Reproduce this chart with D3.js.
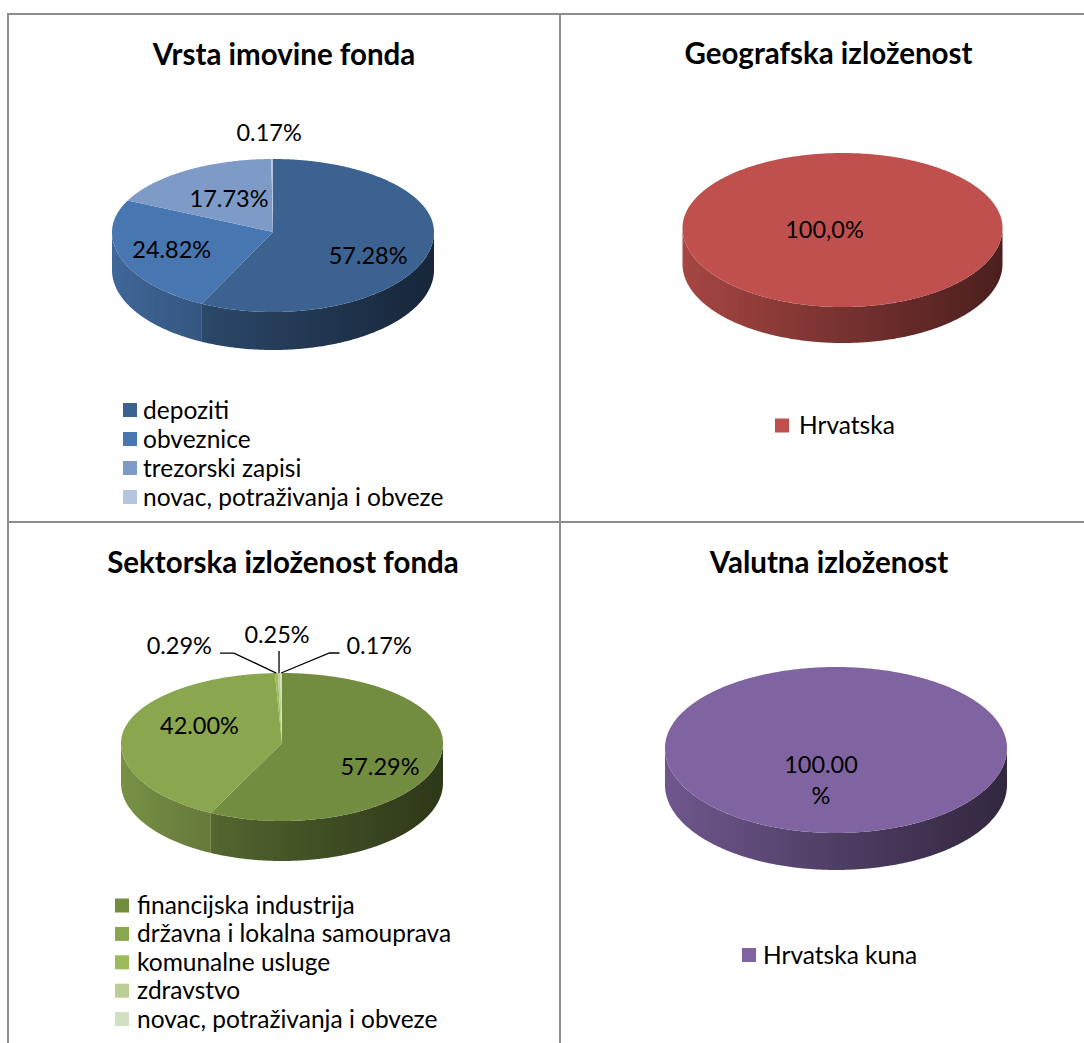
<!DOCTYPE html>
<html><head><meta charset="utf-8">
<script src="https://cdn.jsdelivr.net/npm/d3@7/dist/d3.min.js"></script>
<style>body{margin:0;background:#fff}svg{display:block}</style>
</head><body>
<svg id="chart" width="1084" height="1043"></svg>
<script>
// ---------- data ----------
const titles = ["Vrsta imovine fonda", "Geografska izloženost", "Sektorska izloženost fonda", "Valutna izloženost"];

const assetCategories = ["depoziti", "obveznice", "trezorski zapisi", "novac, potraživanja i obveze"];
const assetValues = [57.28, 24.82, 17.73, 0.17];

const geoCategories = ["Hrvatska"];
const geoValues = [100.0];

const sectorCategories = ["financijska industrija", "državna i lokalna samouprava", "komunalne usluge", "zdravstvo", "novac, potraživanja i obveze"];
const sectorValues = [57.29, 42.00, 0.29, 0.25, 0.17];

const currencyCategories = ["Hrvatska kuna"];
const currencyValues = [100.00];

// ---------- styles ----------
const assetColors = ["#3B6291", "#4876B0", "#7E9BC8", "#B5C5E0"];
const geoColors = ["#C0504D"];
const sectorColors = ["#738D40", "#8AA64F", "#9DBB5B", "#BBCE95", "#D3DFC2"];
const currencyColors = ["#8064A2"];

const FONT = "Lato, 'Open Sans', sans-serif";
const TITLE_SIZE = 29.5, LABEL_SIZE = 23.5, LEGEND_SIZE = 24.5;
const svg = d3.select("#chart");
const defs = svg.append("defs");

// grid lines
const grid = svg.append("g").attr("stroke", "#8C8C8C").attr("stroke-width", 2);
grid.append("line").attr("x1", 7).attr("x2", 1084).attr("y1", 14).attr("y2", 14);
grid.append("line").attr("x1", 8).attr("x2", 8).attr("y1", 13).attr("y2", 1043);
grid.append("line").attr("x1", 560).attr("x2", 560).attr("y1", 13).attr("y2", 1043);
grid.append("line").attr("x1", 8).attr("x2", 1084).attr("y1", 522).attr("y2", 522);

const charts = [
  { title: titles[0], cats: assetCategories, vals: assetValues, colors: assetColors,
    titleX: 284, titleY: 65,
    cx: 273, cy: 232, rx: 161, ryB: 73, ryF: 80, depth: 38,
    fmt: v => v.toFixed(2) + "%",
    insideNudge: [[1, 13], [-10, 2], [8, 4]],
    outside: [[-3, -26]], leaders: false,
    legendX: 123, legendY: 410, legendStep: 29, legendTextX: 143 },
  { title: titles[1], cats: geoCategories, vals: geoValues, colors: geoColors,
    titleX: 828.5, titleY: 64,
    cx: 842.5, cy: 228, rx: 160, ryB: 75, ryF: 79, depth: 36,
    fmt: v => v.toFixed(1).replace(".", ",") + "%",
    singleNudge: [-18, 2],
    legendX: 775, legendY: 425.5, legendStep: 29, legendTextX: 799 },
  { title: titles[2], cats: sectorCategories, vals: sectorValues, colors: sectorColors,
    titleX: 283, titleY: 573,
    cx: 282, cy: 743, rx: 161, ryB: 70, ryF: 78, depth: 40,
    fmt: v => v.toFixed(2) + "%",
    insideNudge: [[4, 13], [12, -9]],
    outside: [[-97, -27], [-2, -38], [98, -27]], leaders: true,
    legendX: 115, legendY: 905.5, legendStep: 28.4, legendTextX: 137 },
  { title: titles[3], cats: currencyCategories, vals: currencyValues, colors: currencyColors,
    titleX: 829, titleY: 573,
    cx: 836, cy: 748, rx: 171, ryB: 81, ryF: 85, depth: 37,
    fmt: v => v.toFixed(2) + "%", wrapPercent: true,
    singleNudge: [-15, 32],
    legendX: 742, legendY: 955, legendStep: 29, legendTextX: 763 }
];

const pie = d3.pie().sort(null).value(d => d);

function darken(c, k) {
  const r = d3.rgb(c);
  return d3.rgb(r.r * k, r.g * k, r.b * k).formatHex();
}

charts.forEach((ch, ci) => {
  const g = svg.append("g");
  const proj = (a, s = 1) => {
    const c = Math.cos(a);
    return [ch.cx + ch.rx * s * Math.sin(a), ch.cy - (c > 0 ? ch.ryB : ch.ryF) * s * c];
  };
  const arcPts = (a0, a1, s = 1) => {
    const n = Math.max(2, Math.ceil((a1 - a0) / 0.01));
    return d3.range(n + 1).map(i => proj(a0 + (a1 - a0) * i / n, s));
  };
  const arcs = pie(ch.vals);
  const line = d3.line();

  // title
  g.append("text").attr("x", ch.titleX).attr("y", ch.titleY)
    .attr("text-anchor", "middle").attr("font-family", FONT).attr("font-weight", "bold")
    .attr("font-size", TITLE_SIZE).attr("fill", "#000").text(ch.title);

  // sides
  arcs.forEach((a, i) => {
    const a0 = Math.max(a.startAngle, Math.PI / 2), a1 = Math.min(a.endAngle, 3 * Math.PI / 2);
    if (a1 <= a0) return;
    const id = `side${ci}_${i}`;
    const grad = defs.append("linearGradient").attr("id", id)
      .attr("gradientUnits", "userSpaceOnUse")
      .attr("x1", ch.cx - ch.rx).attr("x2", ch.cx + ch.rx).attr("y1", 0).attr("y2", 0);
    [[0, 0.87], [0.5, 0.62], [1, 0.39]].forEach(([o, k]) =>
      grad.append("stop").attr("offset", o).attr("stop-color", darken(ch.colors[i], k)));
    const top = arcPts(a0, a1);
    const bot = top.slice().reverse().map(p => [p[0], p[1] + ch.depth]);
    g.append("path").attr("d", line(top.concat(bot)) + "Z").attr("fill", `url(#${id})`);
  });

  // top faces
  arcs.forEach((a, i) => {
    const full = a.endAngle - a.startAngle > 2 * Math.PI - 1e-6;
    const pts = arcPts(a.startAngle, a.endAngle);
    const d = full ? line(pts) + "Z" : line([[ch.cx, ch.cy]].concat(pts)) + "Z";
    g.append("path").attr("d", d).attr("fill", ch.colors[i]);
  });

  // labels
  let outIdx = 0, inIdx = 0;
  arcs.forEach((a, i) => {
    const txt = ch.fmt(ch.vals[i]);
    const mid = (a.startAngle + a.endAngle) / 2;
    if (arcs.length === 1) {
      const x = ch.cx + ch.singleNudge[0], y = ch.cy + ch.singleNudge[1];
      const t = g.append("text").attr("font-family", FONT).attr("font-size", LABEL_SIZE)
        .attr("text-anchor", "middle").attr("fill", "#000");
      if (ch.wrapPercent) {
        const parts = [txt.slice(0, -1), "%"];
        parts.forEach((p, k) => t.append("tspan").attr("x", x).attr("y", y + (k - 0.5) * 31).attr("dy", "0.35em").text(p));
      } else {
        t.attr("x", x).attr("y", y).attr("dy", "0.35em").text(txt);
      }
      return;
    }
    if (ch.vals[i] >= 5) {
      const [px, py] = proj(mid, 0.6);
      const nd = ch.insideNudge[inIdx++];
      g.append("text").attr("x", px + nd[0]).attr("y", py + nd[1]).attr("dy", "0.35em")
        .attr("text-anchor", "middle").attr("font-family", FONT).attr("font-size", LABEL_SIZE)
        .attr("fill", "#000").text(txt);
    } else {
      const k = outIdx++;
      const [ex, ey] = proj(mid, 1);
      const off = ch.outside[k];
      const lx = ex + off[0], ly = ey + off[1];
      const t = g.append("text").attr("x", lx).attr("y", ly).attr("dy", "0.35em")
        .attr("text-anchor", "middle").attr("font-family", FONT).attr("font-size", LABEL_SIZE)
        .attr("fill", "#000").text(txt);
      if (ch.leaders) {
        const w = t.node().getComputedTextLength();
        let pts;
        if (off[0] < -20) {
          const sx = lx + w / 2 + 8, sy = ly + 7;
          pts = [[sx, sy], [sx + 14, sy], [ex, ey]];
        } else if (off[0] > 20) {
          const sx = lx - w / 2 - 7, sy = ly + 7;
          pts = [[sx, sy], [sx - 10, sy], [ex, ey]];
        } else {
          pts = [[ex, ly + 16], [ex, ey]];
        }
        g.append("path").attr("d", line(pts)).attr("fill", "none")
          .attr("stroke", "#000").attr("stroke-width", 1.3);
      }
    }
  });

  // legend
  ch.cats.forEach((c, i) => {
    const y = ch.legendY + i * ch.legendStep;
    g.append("rect").attr("x", ch.legendX).attr("y", y - 7).attr("width", 14).attr("height", 14)
      .attr("fill", ch.colors[i]);
    g.append("text").attr("x", ch.legendTextX).attr("y", y).attr("dy", "0.35em")
      .attr("font-family", FONT).attr("font-size", LEGEND_SIZE).attr("fill", "#000").text(c);
  });
});
</script>
</body></html>
